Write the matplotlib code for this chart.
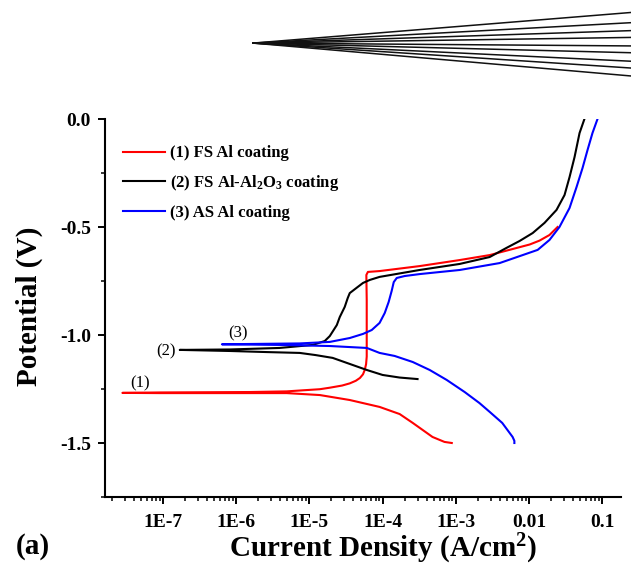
import numpy as np
import matplotlib
matplotlib.use('Agg')
import matplotlib.pyplot as plt
from matplotlib.lines import Line2D
from matplotlib.ticker import FixedLocator, FixedFormatter, LogLocator, NullFormatter

# Polarization curves: current density (A/cm2) and potential (V)
red_i = [8.8e-4, 7.0e-4, 4.8e-4, 2.58e-4, 1.71e-4, 9.1e-5, 3.56e-5, 1.39e-5, 4.9e-6, 6.0e-7,
         9.1e-8, 2.8e-8, 9.1e-8, 1.54e-6, 4.9e-6, 7.4e-6, 1.39e-5, 1.9e-5, 2.8e-5, 3.56e-5,
         4.3e-5, 4.9e-5, 5.4e-5, 5.7e-5, 5.95e-5, 6.07e-5, 6.07e-5, 6.0e-5, 6.3e-5, 9.1e-5,
         3.2e-4, 1.13e-3, 2.9e-3, 5.96e-3, 0.0102, 0.0139, 0.019, 0.0245]
red_E = [-1.50, -1.495, -1.472, -1.407, -1.366, -1.333, -1.301, -1.278, -1.269, -1.269,
         -1.269, -1.268, -1.266, -1.264, -1.261, -1.257, -1.251, -1.244, -1.234, -1.224,
         -1.212, -1.199, -1.182, -1.162, -1.135, -1.10, -0.838, -0.722, -0.708, -0.704,
         -0.681, -0.653, -0.630, -0.602, -0.581, -0.563, -0.537, -0.5]

black_i = [3.0e-4, 1.71e-4, 1.0e-4, 6.1e-5, 3.56e-5, 2.08e-5, 1.22e-5, 7.4e-6, 2.6e-6, 8.2e-7,
           1.7e-7, 8.2e-7, 3.9e-6, 1.11e-5, 1.62e-5, 1.9e-5, 2.37e-5, 2.6e-5, 3.04e-5, 3.34e-5,
           3.56e-5, 4.4e-5, 5.4e-5, 6.7e-5, 9.1e-5, 3.2e-4, 1.13e-3, 2.9e-3, 4.9e-3, 7.4e-3,
           0.0112, 0.01625, 0.0237, 0.0305, 0.0357, 0.0418, 0.0489, 0.057]
black_E = [-1.204, -1.197, -1.185, -1.162, -1.134, -1.106, -1.093, -1.083, -1.079, -1.074,
           -1.069, -1.067, -1.06, -1.046, -1.028, -1.005, -0.954, -0.917, -0.870, -0.829,
           -0.806, -0.782, -0.759, -0.745, -0.731, -0.699, -0.671, -0.639, -0.597, -0.565,
           -0.528, -0.481, -0.421, -0.352, -0.269, -0.176, -0.065, 0.0]

blue_i = [6.3e-3, 6.3e-3, 5.96e-3, 4.3e-3, 2.9e-3, 2.1e-3, 1.32e-3, 7.5e-4, 4.4e-4, 2.58e-4,
          1.46e-4, 9.1e-5, 6.1e-5, 1.9e-5, 3.9e-6, 6.4e-7, 7.4e-6, 1.9e-5, 3.56e-5, 5.4e-5,
          7.1e-5, 9.1e-5, 1.07e-4, 1.21e-4, 1.33e-4, 1.42e-4, 1.56e-4, 2.0e-4, 3.2e-4, 1.13e-3,
          3.96e-3, 0.0131, 0.019, 0.026, 0.0357, 0.0445, 0.0537, 0.0628, 0.0734, 0.086]
blue_E = [-1.50, -1.49, -1.472, -1.407, -1.356, -1.315, -1.264, -1.208, -1.162, -1.125,
          -1.097, -1.083, -1.06, -1.051, -1.046, -1.043, -1.039, -1.032, -1.014, -0.995,
          -0.977, -0.944, -0.898, -0.847, -0.796, -0.755, -0.736, -0.727, -0.718, -0.699,
          -0.667, -0.606, -0.560, -0.5, -0.412, -0.315, -0.227, -0.144, -0.065, 0.0]

labels = ['(1) FS Al coating', r'(2) FS Al-Al$_\mathbf{2}$O$_\mathbf{3}$ coating', '(3) AS Al coating']
colors = ['#ff0000', '#000000', '#0000ff']

# curve tags (text, current, potential)
tags = [('(1)', 4.9e-8, -1.222), ('(2)', 1.1e-7, -1.074), ('(3)', 1.05e-6, -0.994)]

x_ticks = [1e-7, 1e-6, 1e-5, 1e-4, 1e-3, 1e-2, 1e-1]
x_tick_labels = ['1E-7', '1E-6', '1E-5', '1E-4', '1E-3', '0.01', '0.1']
y_ticks = [0.0, -0.5, -1.0, -1.5]
y_tick_labels = ['0.0', '-0.5', '-1.0', '-1.5']

# stray fan of lines above the plot (figure fractions)
fan_apex = (0.401, 0.924)
fan_end_y = [0.978, 0.960, 0.946, 0.934, 0.919, 0.907, 0.892, 0.880, 0.866]

plt.rcParams['font.family'] = ['Liberation Serif', 'DejaVu Serif']
plt.rcParams['mathtext.fontset'] = 'custom'
plt.rcParams['mathtext.rm'] = 'Liberation Serif:bold'
plt.rcParams['mathtext.bf'] = 'Liberation Serif:bold'
plt.rcParams['mathtext.default'] = 'rm'

fig = plt.figure(figsize=(6.31, 5.67), dpi=100)
ax = fig.add_axes([105 / 631, 70 / 567, 516 / 631, 378 / 567])

for xs, ys, c, lab in zip([red_i, black_i, blue_i], [red_E, black_E, blue_E], colors, labels):
    ax.plot(xs, ys, color=c, lw=1.5, label=lab)

for t, xi, yi in tags:
    ax.text(xi, yi, t, fontsize=12, ha='center', va='center')

ax.set_xscale('log')
ax.set_xlim(1.62e-8, 0.18)
ax.set_ylim(-1.75, 0.0)
ax.xaxis.set_major_locator(FixedLocator(x_ticks))
ax.xaxis.set_major_formatter(FixedFormatter(x_tick_labels))
ax.xaxis.set_minor_locator(LogLocator(base=10, subs=np.arange(2, 10), numticks=30))
ax.xaxis.set_minor_formatter(NullFormatter())
ax.set_yticks(y_ticks)
ax.set_yticklabels(y_tick_labels)
ax.set_yticks(np.arange(-1.75, 0.01, 0.25), minor=True)

for s in ['top', 'right']:
    ax.spines[s].set_visible(False)
for s in ['left', 'bottom']:
    ax.spines[s].set_linewidth(1.5)
ax.tick_params(which='major', direction='out', length=5, width=1.4, labelsize=14, pad=5)
ax.tick_params(axis='x', which='major', pad=7)
ax.tick_params(which='minor', direction='out', length=3, width=1.1)
plt.setp(ax.get_xticklabels() + ax.get_yticklabels(), fontweight='bold')

ax.set_xlabel(r'Current Density (A/cm$^\mathbf{2}$)', fontsize=21, fontweight='bold')
ax.xaxis.set_label_coords(0.539, -0.138)
ax.xaxis.label.set_va('center')
ax.set_ylabel('Potential (V)', fontsize=21, fontweight='bold')
ax.yaxis.set_label_coords(-0.147, 0.505)
ax.yaxis.label.set_va('center')

ax.legend(loc='upper left', bbox_to_anchor=(0.035, 0.93), frameon=False,
          prop={'weight': 'bold', 'size': 12}, handlelength=2.5, handletextpad=0.3,
          labelspacing=0.7, borderpad=0, borderaxespad=0)

fig.text(33 / 631, 1 - 547 / 567, '(a)', fontsize=21, fontweight='bold', ha='center', va='center')

for ye in fan_end_y:
    fig.add_artist(Line2D([fan_apex[0], 1.0], [fan_apex[1], ye], transform=fig.transFigure,
                          color='#111111', lw=1.1))

fig.savefig('out.png', dpi=100)
